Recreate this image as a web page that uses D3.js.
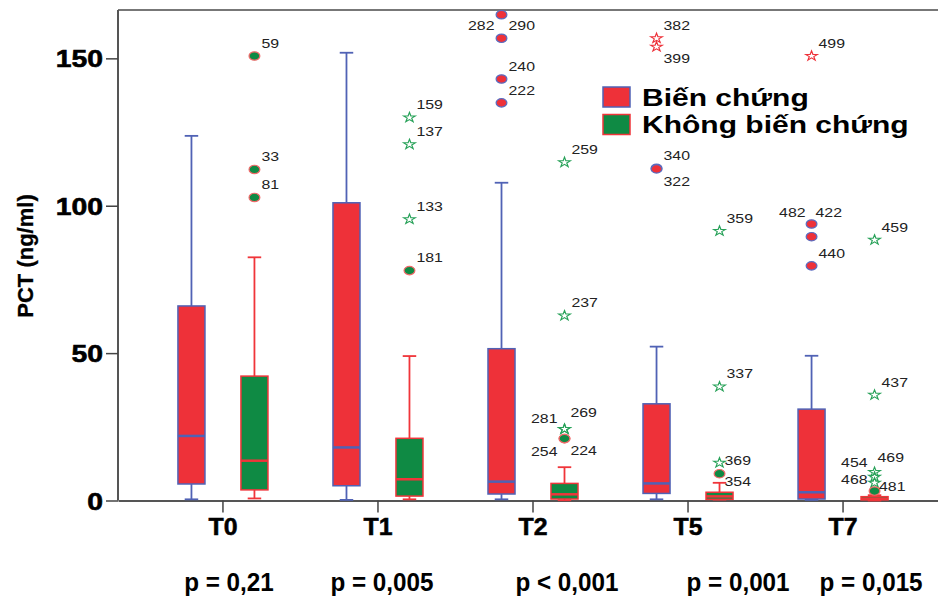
<!DOCTYPE html>
<html>
<head>
<meta charset="utf-8">
<script src="https://cdn.jsdelivr.net/npm/d3@7"></script>
<style>
  html, body { margin: 0; padding: 0; background: #fff; }
  svg { display: block; font-family: "Liberation Sans", Arial, sans-serif; }
</style>
</head>
<body>
<svg id="chart" width="938" height="599"></svg>
<script>
// Time points and patient groups
const categories = ["T0", "T1", "T2", "T5", "T7"];
const groups = ["Biến chứng", "Không biến chứng"];

// Five-number summaries per time point: [lower whisker, Q1, median, Q3, upper whisker]
const bienChung = [
  [0.4, 5.6, 21.9, 66.0, 123.7],
  [0.2, 5.0, 18.0, 101.0, 151.9],
  [0.4, 2.2, 6.4, 51.5, 107.8],
  [0.4, 2.4, 5.8, 32.8, 52.2],
  [0.2, 0.5, 2.8, 31.0, 49.1]
];
const khongBienChung = [
  [0.7, 3.6, 13.5, 42.2, 82.5],
  [0.4, 1.5, 7.2, 21.1, 49.0],
  [0.1, 0.5, 2.1, 5.8, 11.3],
  [0.3, 0.4, 1.4, 2.8, 6.0],
  [0.0, 0.2, 0.6, 1.3, 1.8]
];

// Outliers ("o") and extremes ("*"): [time point, value, case number, kind]
const outliersBienChung = [
  ["T2", 164.8, "282", "o"], ["T2", 156.8, "290", "o"], ["T2", 143.0, "240", "o"], ["T2", 134.9, "222", "o"],
  ["T5", 156.8, "382", "*"], ["T5", 153.9, "399", "*"], ["T5", 112.7, "340", "o"], ["T5", 112.5, "322", "o"],
  ["T7", 150.8, "499", "*"], ["T7", 93.8, "482", "o"], ["T7", 89.5, "422", "o"], ["T7", 79.6, "440", "o"]
];
const outliersKhongBienChung = [
  ["T0", 150.8, "59", "o"], ["T0", 112.3, "33", "o"], ["T0", 102.8, "81", "o"],
  ["T1", 129.9, "159", "*"], ["T1", 120.8, "137", "*"], ["T1", 95.4, "133", "*"], ["T1", 78.0, "181", "o"],
  ["T2", 114.7, "259", "*"], ["T2", 62.7, "237", "*"], ["T2", 24.2, "281", "*"], ["T2", 24.2, "269", "*"],
  ["T2", 21.0, "254", "o"], ["T2", 21.0, "224", "o"],
  ["T5", 91.4, "359", "*"], ["T5", 38.6, "337", "*"], ["T5", 12.8, "369", "*"], ["T5", 9.1, "354", "o"],
  ["T7", 88.4, "459", "*"], ["T7", 35.8, "437", "*"], ["T7", 9.6, "469", "*"], ["T7", 8.0, "454", "*"],
  ["T7", 6.0, "468", "*"], ["T7", 3.2, "481", "o"]
];

// Axis ticks and p-values under each time point
const yTicks = [0, 50, 100, 150];
const pValues = ["p = 0,21", "p = 0,005", "p < 0,001", "p = 0,001", "p = 0,015"];

// Case-label placement where labels would collide: [anchor, dx, dy]
const labelDefault = ["start", 7, -13];
const labelPlacement = {
  "282": ["end", -7, 10.3], "322": ["start", 7, 12.7], "399": ["start", 7, 11],
  "281": ["end", -7, -11], "269": ["start", 6, -16.6], "254": ["end", -7, 13], "224": ["start", 6, 12],
  "369": ["start", 5, -2.7], "354": ["start", 5, 8],
  "482": ["end", -6, -11.7], "422": ["start", 4, -24.4],
  "454": ["end", -7, -15], "469": ["start", 3, -14.5], "468": ["end", -7, -3.4], "481": ["start", 4.5, -4.3]
};
// Horizontal shift of each p-value from its tick
const pShift = [6, 4, 34, 50, 28];

const RED = "#ee3139", GREEN = "#0f8a44", BLUE = "#5062b5", STAR_GREEN = "#27a158";
const style = {
  "Biến chứng": { fill: RED, line: BLUE, circleStroke: "#5a6cc0", star: RED },
  "Không biến chứng": { fill: GREEN, line: "#f0353a", circleStroke: "#f06a6a", star: STAR_GREEN }
};

const svg = d3.select("#chart");
const W = 938;
const plotLeft = 118, plotTop = 10, plotBottom = 500.5;

const x = d3.scaleBand().domain(categories).range([plotLeft, 948]).paddingOuter(0.177).paddingInner(0);
const sub = d3.scaleBand().domain(groups).range([0, x.bandwidth()]).paddingInner(0.571).paddingOuter(0.516);
const y = d3.scaleLinear().domain([0, 166.4]).range([plotBottom, plotTop]);

// Stretch helper: widens text glyphs horizontally
function widen(sel, k) {
  sel.each(function () {
    const w = this.getComputedTextLength();
    this.setAttribute("textLength", w * k);
    this.setAttribute("lengthAdjust", "spacingAndGlyphs");
  });
}

// Frame: top line
svg.append("line").attr("x1", plotLeft).attr("x2", W).attr("y1", plotTop).attr("y2", plotTop)
  .attr("stroke", "#777").attr("stroke-width", 2);

// Axes
const yAxis = svg.append("g").attr("transform", `translate(${plotLeft},0)`)
  .call(d3.axisLeft(y).tickValues(yTicks).tickSize(12).tickSizeOuter(0).tickPadding(3));
const xAxis = svg.append("g").attr("transform", `translate(0,${plotBottom})`)
  .call(d3.axisBottom(x).tickSize(12).tickSizeOuter(0).tickPadding(5));
[yAxis, xAxis].forEach(a => {
  a.select(".domain").attr("stroke", "#555").attr("stroke-width", 2);
  a.selectAll(".tick line").attr("stroke", "#444").attr("stroke-width", 1.5);
  a.selectAll("text").attr("fill", "#000").attr("font-weight", "bold").attr("font-family", "Liberation Sans, Arial, sans-serif");
});
yAxis.select(".domain").attr("d", `M0,${plotBottom}V${plotTop}`);
yAxis.selectAll("text").attr("font-size", 24).attr("dy", "0.36em")
  .attr("stroke", "#000").attr("stroke-width", 0.6).call(widen, 1.18);
xAxis.selectAll("text").attr("font-size", 23).attr("dy", "0.75em")
  .attr("stroke", "#000").attr("stroke-width", 0.5).call(widen, 1.08);

// Y axis title
svg.append("text")
  .attr("transform", "translate(33,256) rotate(-90)")
  .attr("text-anchor", "middle")
  .attr("font-size", 22).attr("font-weight", "bold")
  .attr("stroke", "#000").attr("stroke-width", 0.3)
  .text("PCT (ng/ml)");

// Boxes
const series = [[groups[0], bienChung], [groups[1], khongBienChung]];
const plot = svg.append("g");
series.forEach(([g, stats]) => {
  const s = style[g];
  const bw = sub.bandwidth();
  const gg = plot.append("g").selectAll("g").data(stats.map((d, i) => ({ cat: categories[i], d })))
    .join("g")
    .attr("transform", d => `translate(${x(d.cat) + sub(g)},0)`);
  // whisker stems
  gg.append("line").attr("x1", bw / 2).attr("x2", bw / 2)
    .attr("y1", d => y(d.d[4])).attr("y2", d => y(d.d[3]))
    .attr("stroke", s.line).attr("stroke-width", 1.8);
  gg.append("line").attr("x1", bw / 2).attr("x2", bw / 2)
    .attr("y1", d => y(d.d[1])).attr("y2", d => y(d.d[0]))
    .attr("stroke", s.line).attr("stroke-width", 1.8);
  // whisker caps
  [0, 4].forEach(k => {
    gg.append("line").attr("x1", bw / 4).attr("x2", bw * 3 / 4)
      .attr("y1", d => y(d.d[k])).attr("y2", d => y(d.d[k]))
      .attr("stroke", s.line).attr("stroke-width", 1.8);
  });
  // box
  gg.append("rect").attr("x", 0).attr("width", bw)
    .attr("y", d => y(d.d[3])).attr("height", d => Math.max(0, y(d.d[1]) - y(d.d[3])))
    .attr("fill", s.fill).attr("stroke", s.line).attr("stroke-width", 1.5);
  // median
  gg.append("line").attr("x1", 0).attr("x2", bw)
    .attr("y1", d => y(d.d[2])).attr("y2", d => y(d.d[2]))
    .attr("stroke", s.line).attr("stroke-width", 2.5);
});

// Outliers and extremes with case numbers
const outSeries = [[groups[0], outliersBienChung], [groups[1], outliersKhongBienChung]];
const starPath = d3.symbol(d3.symbolStar, 30)();
outSeries.forEach(([g, pts]) => {
  const s = style[g];
  const bw = sub.bandwidth();
  const og = plot.append("g");
  pts.forEach(([cat, v, id, kind]) => {
    const cx = x(cat) + sub(g) + bw / 2, cy = y(v);
    if (kind === "o") {
      og.append("ellipse").attr("cx", cx).attr("cy", cy).attr("rx", 5.4).attr("ry", 4.2)
        .attr("fill", s.fill).attr("stroke", s.circleStroke).attr("stroke-width", 1.2);
    } else {
      og.append("path").attr("d", starPath).attr("transform", `translate(${cx},${cy}) scale(1.2,1)`)
        .attr("fill", "none").attr("stroke", s.star).attr("stroke-width", 1);
    }
    const [anchor, dx, dy] = labelPlacement[id] || labelDefault;
    og.append("text").attr("x", cx + dx).attr("y", cy + dy).attr("dy", "0.36em")
      .attr("text-anchor", anchor).attr("font-size", 13).attr("fill", "#222")
      .text(id).call(widen, 1.22);
  });
});

// Legend
const legend = svg.append("g");
groups.forEach((g, i) => {
  const s = style[g];
  legend.append("rect").attr("x", 603).attr("y", 87 + i * 27.5).attr("width", 27).attr("height", 20)
    .attr("fill", s.fill).attr("stroke", s.line).attr("stroke-width", 1.5);
  legend.append("text").attr("x", 642).attr("y", 97 + i * 27.5).attr("dy", "0.36em")
    .attr("font-size", 24).attr("font-weight", "bold").attr("fill", "#000")
    .text(g).call(widen, 1.25);
});

// p-values below the axis
svg.append("g").selectAll("text").data(pValues).join("text")
  .attr("x", (d, i) => x(categories[i]) + x.bandwidth() / 2 + pShift[i])
  .attr("y", 591)
  .attr("text-anchor", "middle")
  .attr("font-size", 25).attr("font-weight", "bold").attr("fill", "#000")
  .text(d => d).call(widen, 0.97);
</script>
</body>
</html>
